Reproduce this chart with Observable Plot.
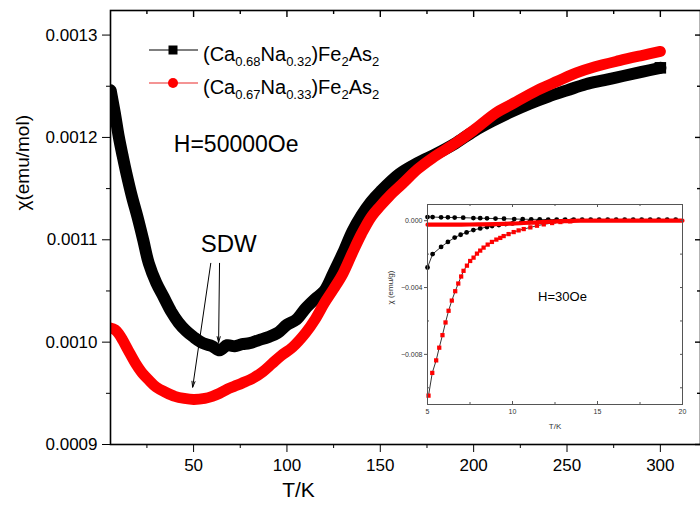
<!DOCTYPE html>
<html><head><meta charset="utf-8">
<script src="https://cdn.jsdelivr.net/npm/d3@7"></script>
<script src="https://cdn.jsdelivr.net/npm/@observablehq/plot@0.6"></script>
<style>
body{margin:0;background:#fff;font-family:"Liberation Sans",Arial,sans-serif;}
#wrap{position:relative;width:700px;height:516px;overflow:hidden;background:#fff;}
#wrap svg{position:absolute;}
.legtxt{position:absolute;font-size:20px;line-height:20px;white-space:nowrap;color:#000;}
.legtxt sub{font-size:13px;vertical-align:-5px;line-height:0;}
</style></head><body><div id="wrap"></div>
<script>
// ---------------- main data (H = 50000 Oe) ----------------
const T_black = [5.6,8,10,12,14,17,20,23,26,30,34,38,42,46,50,55,60,64,68,72,76,80,85,90,95,100,105,110,115,120,125,130,135,140,145,150,160,170,180,190,200,210,220,230,240,250,260,270,280,290,300];
const chi_black = [12.46,12.22,12.0,11.82,11.65,11.42,11.22,11.0,10.77,10.58,10.44,10.30,10.19,10.11,10.05,9.99,9.96,9.92,9.97,9.96,9.98,9.99,10.02,10.05,10.09,10.17,10.22,10.33,10.42,10.5,10.68,10.87,11.08,11.24,11.37,11.47,11.64,11.75,11.84,11.94,12.06,12.16,12.25,12.33,12.40,12.46,12.52,12.56,12.60,12.64,12.68].map(v=>v*1e-4);
const T_red = [5,8,10,12,15,19,22,26,30,35,40,45,50,56,60,64,68,72,76,82,87,92,97,103,110,115,120,125,130,135,140,145,150,155,162,170,178,190,200,212,220,234,245,255,265,278,290,300];
const chi_red = [10.14,10.12,10.08,10.02,9.92,9.79,9.71,9.63,9.56,9.51,9.47,9.45,9.44,9.45,9.47,9.50,9.54,9.57,9.60,9.65,9.71,9.79,9.87,9.95,10.09,10.22,10.38,10.52,10.67,10.87,11.06,11.22,11.33,11.43,11.55,11.69,11.80,11.94,12.07,12.24,12.32,12.46,12.55,12.63,12.69,12.75,12.80,12.84].map(v=>v*1e-4);

const seriesColors = ["#000000","#ff0000"];
const legendCa = ["0.68","0.67"];
const legendNa = ["0.32","0.33"];

const yMajorTicks = [0.0009,0.0010,0.0011,0.0012,0.0013];
const yMinorTicks = [0.00095,0.00105,0.00115,0.00125];
const xMajorTicks = [50,100,150,200,250,300];
const xMinorTicks = [25,75,125,175,225,275];

const xLabel = "T/K";
const yLabel = "χ(emu/mol)";
const fieldLabel = "H=50000Oe";
const sdwLabel = "SDW";
// annotation anchors in data units
const fieldPos = {T:39.4, chi:0.001193};
const sdwPos = {T:68.8, chi:0.001096};
const sdwArrows = [
  {T1:59.2, c1:0.001077, T2:49.5, c2:0.000956},
  {T1:63.9, c1:0.001077, T2:63.4, c2:0.0009997}
];

// ---------------- inset data (H = 30 Oe) ----------------
const inT_blackZFC = [5.0,5.3,5.8,6.2,6.6,6.95,7.3,7.7,8.1,8.5,8.8,9.2,9.6,10.0,10.5,11.0,11.5,12.0,12.5,13.0,13.5];
const inChi_blackZFC = [-0.0028,-0.0020,-0.00157,-0.00127,-0.00101,-0.00084,-0.0007,-0.00056,-0.00046,-0.00038,-0.00032,-0.00026,-0.0002,-0.00016,-0.00012,-0.00009,-0.00006,-0.00004,-0.00002,-0.00001,0];
const inT_blackFC = [5.0,5.3,5.8,6.2,6.6,7.1,7.7,8.1,8.5,9.0,9.5,10.1,10.6,11.1,11.6,12.1,12.6,13.1,13.6,14.1,14.6,15.1,15.6,16.1,16.6,17.1,17.6,18.1,18.6,19.1,19.6];
const inChi_blackFC = [0.00022,0.00022,0.0002,0.0002,0.00019,0.00018,0.00016,0.00015,0.00014,0.00013,0.00012,0.0001,0.00009,0.00008,0.00008,0.00007,0.00007,0.00007,0.00007,0.00007,0.00007,0.00007,0.00007,0.00007,0.00007,0.00007,0.00007,0.00007,0.00007,0.00007,0.00007];
const inT_redZFC = [5.06,5.28,5.51,5.69,5.88,6.06,6.24,6.43,6.63,6.81,6.98,7.12,7.32,7.51,7.71,7.91,8.1,8.3,8.54,8.79,9.05,9.28,9.48,9.77,10.07,10.36,10.66,11.05,11.44,11.84,12.33,12.82,13.4];
const inChi_redZFC = [-0.01047,-0.00911,-0.00836,-0.0076,-0.00685,-0.00609,-0.00539,-0.00478,-0.00422,-0.00376,-0.00334,-0.003,-0.00269,-0.00241,-0.00221,-0.00197,-0.00179,-0.00161,-0.00143,-0.00127,-0.00113,-0.00103,-0.00092,-0.0008,-0.00068,-0.00058,-0.0005,-0.0004,-0.0003,-0.00022,-0.00014,-0.00008,-0.00004];
const inT_redFC = [5,6,7,8,9,10,11,12,13,14,15,16,17,18,19,20];
const inChi_redFC = [-0.00024,-0.00024,-0.00023,-0.00022,-0.0002,-0.00017,-0.00012,-0.00007,-0.00003,0,0,0,0,0,0,0];
const inXMajor = [5,10,15,20];
const inXMinor = [7.5,12.5,17.5];
const inYMajor = [0,-0.004,-0.008];
const inYMinor = [-0.002,-0.006,-0.010];
const inXLabel = "T/K";
const inYLabel = "χ (emu/g)";
const inFieldLabel = "H=30Oe";
const inFieldPos = {T:12.94, chi:-0.00458};

// ---------------- build ----------------
const zip = (a,b)=>a.map((t,i)=>({T:t,chi:b[i]}));
const black = zip(T_black, chi_black);
const red = zip(T_red, chi_red);
const font = "Liberation Sans, Arial, sans-serif";
const wrap = document.getElementById("wrap");

const main = Plot.plot({
  width:700, height:516, marginLeft:110, marginRight:0, marginTop:10, marginBottom:72,
  style:{fontFamily:font, fontSize:"17px", color:"#000", background:"transparent", overflow:"visible"},
  x:{domain:[5.5,321.5], axis:null},
  y:{domain:[0.0009,0.001324], axis:null},
  marks:[
    Plot.line(black,{x:"T",y:"chi",stroke:seriesColors[0],strokeWidth:12,curve:"catmull-rom",strokeLinejoin:"miter",clip:true}),
    Plot.line(red,{x:"T",y:"chi",stroke:seriesColors[1],strokeWidth:11,curve:"catmull-rom",strokeLinecap:"round",strokeLinejoin:"round",clip:true}),
    Plot.dot(black.slice(-1),{x:"T",y:"chi",symbol:"square",r:6.5,fill:seriesColors[0]}),
    Plot.arrow(sdwArrows,{x1:"T1",y1:"c1",x2:"T2",y2:"c2",stroke:"#000",strokeWidth:1,headLength:9,headAngle:30}),
    Plot.text([sdwLabel],{x:sdwPos.T,y:sdwPos.chi,fontSize:24,fill:"#000"}),
    Plot.text([fieldLabel],{x:fieldPos.T,y:fieldPos.chi,fontSize:23,textAnchor:"start",fill:"#000"}),
    Plot.frame({stroke:"#000",strokeWidth:1.6}),
    Plot.axisY(yMajorTicks,{anchor:"left",tickSize:8,tickPadding:5,tickFormat:d3.format(".4f"),label:null,fontSize:17}),
    Plot.axisY(yMinorTicks,{anchor:"left",tickSize:4,tickFormat:()=>"",label:null}),
    Plot.axisX(xMajorTicks,{anchor:"bottom",tickSize:8,tickPadding:6,label:null,fontSize:17}),
    Plot.axisX(xMinorTicks,{anchor:"bottom",tickSize:4,tickFormat:()=>"",label:null}),
    Plot.tickX(xMajorTicks,{x:d=>d,insetBottom:434-7,stroke:"#000",strokeWidth:1.4}),
    Plot.tickX(xMinorTicks,{x:d=>d,insetBottom:434-4,stroke:"#000",strokeWidth:1.4}),
    Plot.tickY(yMajorTicks,{y:d=>d,insetLeft:590-5,stroke:"#000",strokeWidth:1.4}),
    Plot.tickY(yMinorTicks,{y:d=>d,insetLeft:590-3,stroke:"#000",strokeWidth:1.4}),
    Plot.text([xLabel],{frameAnchor:"bottom",dx:-107,dy:52,fontSize:21,fill:"#000"}),
    Plot.text([yLabel],{frameAnchor:"left",rotate:-90,dx:-88,dy:-17,fontSize:19,fill:"#000"})
  ]
});
main.style.left="0px"; main.style.top="0px";
wrap.appendChild(main);

// inset
const inset = Plot.plot({
  width:310, height:240, marginLeft:45, marginRight:10, marginTop:10, marginBottom:30,
  style:{fontFamily:font, fontSize:"7px", color:"#333", background:"transparent", overflow:"visible"},
  x:{domain:[5,20], axis:null},
  y:{domain:[-0.011,0.00097], axis:null},
  marks:[
    Plot.frame({fill:"#fff",stroke:null}),
    Plot.line(zip(inT_blackFC,inChi_blackFC),{x:"T",y:"chi",stroke:"#000",strokeWidth:0.8}),
    Plot.dot(zip(inT_blackFC,inChi_blackFC),{x:"T",y:"chi",r:2.4,fill:"#000"}),
    Plot.line(zip(inT_blackZFC,inChi_blackZFC),{x:"T",y:"chi",stroke:"#000",strokeWidth:0.8}),
    Plot.dot(zip(inT_blackZFC,inChi_blackZFC),{x:"T",y:"chi",r:2.4,fill:"#000"}),
    Plot.line(zip(inT_redZFC,inChi_redZFC),{x:"T",y:"chi",stroke:"#000",strokeWidth:0.8}),
    Plot.dot(zip(inT_redZFC,inChi_redZFC),{x:"T",y:"chi",symbol:"square",r:2.4,fill:"#ff0000"}),
    Plot.line(zip(inT_redFC,inChi_redFC),{x:"T",y:"chi",stroke:"#ff0000",strokeWidth:4.2,curve:"monotone-x"}),
    Plot.frame({stroke:"#555",strokeWidth:1}),
    Plot.axisY(inYMajor,{anchor:"left",tickSize:3,tickPadding:2,tickFormat:d3.format(".3f"),label:null,fontSize:7,stroke:"#555"}),
    Plot.axisX(inXMajor,{anchor:"bottom",tickSize:0,tickPadding:5,tickFormat:d3.format("d"),label:null,fontSize:7}),
    Plot.tickX(inXMajor,{x:d=>d,insetTop:200-3,stroke:"#555"}),
    Plot.tickX(inXMinor,{x:d=>d,insetTop:200-2,stroke:"#555"}),
    Plot.tickX(inXMajor,{x:d=>d,insetBottom:200-3,stroke:"#555"}),
    Plot.tickX(inXMinor,{x:d=>d,insetBottom:200-2,stroke:"#555"}),
    Plot.tickY(inYMinor,{y:d=>d,insetRight:255-2,stroke:"#555"}),
    Plot.tickY(inYMajor.concat(inYMinor),{y:d=>d,insetLeft:255-2,stroke:"#555"}),
    Plot.text([inXLabel],{frameAnchor:"bottom",dy:24,fontSize:8,fill:"#333"}),
    Plot.text([inYLabel],{frameAnchor:"left",rotate:-90,dx:-37,fontSize:8,fill:"#333"}),
    Plot.text([inFieldLabel],{x:inFieldPos.T,y:inFieldPos.chi,fontSize:13,fill:"#000"})
  ]
});
inset.style.left="382px"; inset.style.top="194px";
wrap.appendChild(inset);

// legend
const rowY = [50,83];
const ns = "http://www.w3.org/2000/svg";
rowY.forEach((cy,i)=>{
  const s = document.createElementNS(ns,"svg");
  s.setAttribute("width","54"); s.setAttribute("height","20");
  s.style.left="147px"; s.style.top=(cy-10)+"px";
  const ln = document.createElementNS(ns,"line");
  ln.setAttribute("x1","2"); ln.setAttribute("x2","51"); ln.setAttribute("y1","10"); ln.setAttribute("y2","10");
  ln.setAttribute("stroke", i===0 ? "#000" : "#f07070"); ln.setAttribute("stroke-width", i===0 ? "1.2":"1.4");
  s.appendChild(ln);
  if(i===0){
    const r = document.createElementNS(ns,"rect");
    r.setAttribute("x","21.5"); r.setAttribute("y","5.5"); r.setAttribute("width","9"); r.setAttribute("height","9");
    r.setAttribute("fill",seriesColors[0]); s.appendChild(r);
  } else {
    const c = document.createElementNS(ns,"circle");
    c.setAttribute("cx","26"); c.setAttribute("cy","10"); c.setAttribute("r","5");
    c.setAttribute("fill",seriesColors[1]); s.appendChild(c);
  }
  wrap.appendChild(s);
  const d = document.createElement("div");
  d.className="legtxt";
  d.style.left="203px"; d.style.top=(cy-6)+"px";
  d.innerHTML = `(Ca<sub>${legendCa[i]}</sub>Na<sub>${legendNa[i]}</sub>)Fe<sub>2</sub>As<sub>2</sub>`;
  wrap.appendChild(d);
});
</script>
</body></html>
